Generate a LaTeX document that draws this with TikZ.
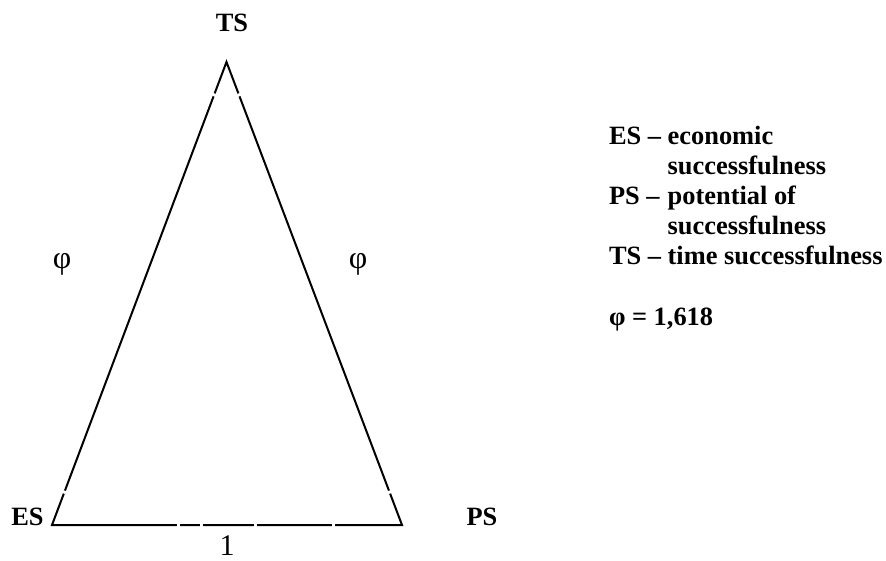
\documentclass[tikz,border=0pt]{standalone}
\usepackage{fontspec}
\setmainfont{Liberation Serif}
\usetikzlibrary{calc}

\tikzset{lbl/.style={font=\fontsize{26.4}{30}\selectfont\bfseries,inner sep=0pt,anchor=base},
  sym/.style={font=\fontsize{32}{34}\selectfont,inner sep=0pt},
  gap/.style={white,line width=3pt}}

\begin{document}
\begin{tikzpicture}[x=1pt,y=-1pt,line width=2pt]
  \useasboundingbox (0,0) rectangle (886,561);
  \coordinate (es) at (52,525);
  \coordinate (ps) at (402,525);
  \coordinate (ts) at (226.5,62);
  \draw[line join=miter] (es) -- (ps) -- (ts) -- cycle;
  % small breaks in the sides
  \foreach \t in {0.071,0.929} {
    \draw[gap] ($(es)!\t-0.003!(ts)$) -- ($(es)!\t+0.003!(ts)$);
    \draw[gap] ($(ps)!\t-0.003!(ts)$) -- ($(ps)!\t+0.003!(ts)$);
  }
  \foreach \t in {0.361,0.427,0.581,0.803}
    \draw[gap] ($(es)!\t-0.0043!(ps)$) -- ($(es)!\t+0.0043!(ps)$);
  \node[lbl] (tsl) at (232,32) {TS};
  \node[lbl] (esl) at (27.5,525) {ES};
  \node[lbl] (psl) at (482,525) {PS};
  \node[sym] (phl) at (62,264) {φ};
  \node[sym] (phr) at (358,264) {φ};
  \node[sym,anchor=base,font=\fontsize{30}{32}\selectfont] (one) at (227,555) {1};
  \node[lbl,anchor=base west] (key) at (608,145) {\begin{tabular}[t]{@{}l@{\ }l@{}}
    ES –&economic\\&successfulness\\PS –&potential of\\&successfulness\\TS –&time successfulness
    \end{tabular}};
  \node[lbl,anchor=base west] (gold) at (608,325) {φ = 1,618};
\end{tikzpicture}
\end{document}
